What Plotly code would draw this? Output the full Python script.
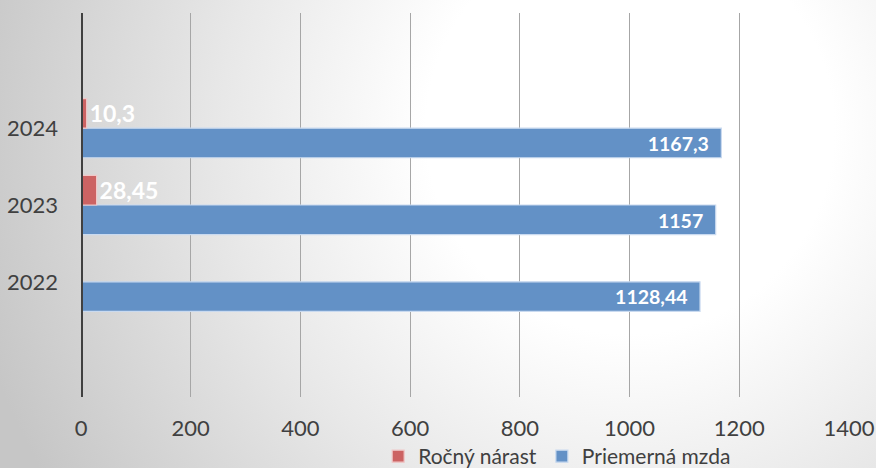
import base64
import plotly.graph_objects as go

years = ["2022", "2023", "2024"]
rocny_narast = [None, 28.45, 10.3]
priemerna_mzda = [1128.44, 1157, 1167.3]
x_ticks = [0, 200, 400, 600, 800, 1000, 1200, 1400]

def fmt(v):
    return "" if v is None else str(v).replace(".", ",")

W, H = 876, 468
L, R, T, B = 81, 27, 13, 71
pw, ph = W - L - R, H - T - B

svg = f'''<svg xmlns="http://www.w3.org/2000/svg" width="{W}" height="{H}" viewBox="0 0 {W} {H}" preserveAspectRatio="none">
<defs><radialGradient id="g" gradientUnits="userSpaceOnUse" cx="630" cy="130" r="680">
<stop offset="0" stop-color="#ffffff"/><stop offset="0.3" stop-color="#ffffff"/>
<stop offset="0.6" stop-color="#e8e8e8"/><stop offset="1" stop-color="#c6c6c6"/></radialGradient></defs>
<rect x="0" y="0" width="{W}" height="{H}" fill="url(#g)"/></svg>'''
src = "data:image/svg+xml;base64," + base64.b64encode(svg.encode()).decode()

FONT = "Lato, 'Open Sans', sans-serif"

fig = go.Figure()
fig.add_trace(go.Bar(
    y=years, x=priemerna_mzda, orientation="h", name="Priemerná mzda",
    marker=dict(color="#6391c6", line=dict(color="#c9daf0", width=1.2)),
    text=[fmt(v) + "\u00a0\u00a0" for v in priemerna_mzda], textposition="inside",
    insidetextanchor="end",
    textfont=dict(color="white", size=24, family=FONT, weight="bold"),
    legendrank=2,
))
fig.add_trace(go.Bar(
    y=years, x=rocny_narast, orientation="h", name="Ročný nárast",
    marker=dict(color="#cc6363", line=dict(color="#f0c8c8", width=1.2)),
    text=[fmt(v) for v in rocny_narast], textposition="outside",
    textfont=dict(color="white", size=23, family=FONT, weight="bold"),
    cliponaxis=False, legendrank=1,
))

fig.update_layout(
    width=W, height=H,
    margin=dict(l=L, r=R, t=T, b=B, autoexpand=False),
    paper_bgcolor="white", plot_bgcolor="rgba(0,0,0,0)",
    barmode="group", bargap=0.23, bargroupgap=0,
    font=dict(family=FONT, size=22, color="#404040"),
    showlegend=True,
    legend=dict(orientation="h", x=0.62, xanchor="center", y=-0.155, yanchor="middle",
                font=dict(size=21, color="#404040"), bgcolor="rgba(0,0,0,0)",
                itemwidth=30, tracegroupgap=0),
    images=[dict(source=src, xref="paper", yref="paper",
                 x=-L / pw, y=1 + T / ph, sizex=W / pw, sizey=H / ph,
                 xanchor="left", yanchor="top", sizing="stretch", layer="below")],
    xaxis=dict(range=[0, 1400], tickvals=x_ticks, showgrid=True, gridcolor="#a6a6a6",
               gridwidth=1, zeroline=False, showline=False, ticks="", automargin=False,
               ticklabelstandoff=16, tickfont=dict(size=22, color="#404040")),
    yaxis=dict(type="category", categoryarray=years, range=[-1.5, 3.5],
               showgrid=False, zeroline=False, showline=False, ticks="", automargin=False,
               ticklabelstandoff=22, tickfont=dict(size=22, color="#404040")),
    shapes=[dict(type="line", xref="x", yref="paper", x0=0, x1=0, y0=0, y1=1,
                 line=dict(color="#404040", width=4), layer="above")],
)

fig.write_html("out.html", config={"displayModeBar": False},
               post_script="document.body.style.margin='0';document.body.style.overflow='hidden';")
